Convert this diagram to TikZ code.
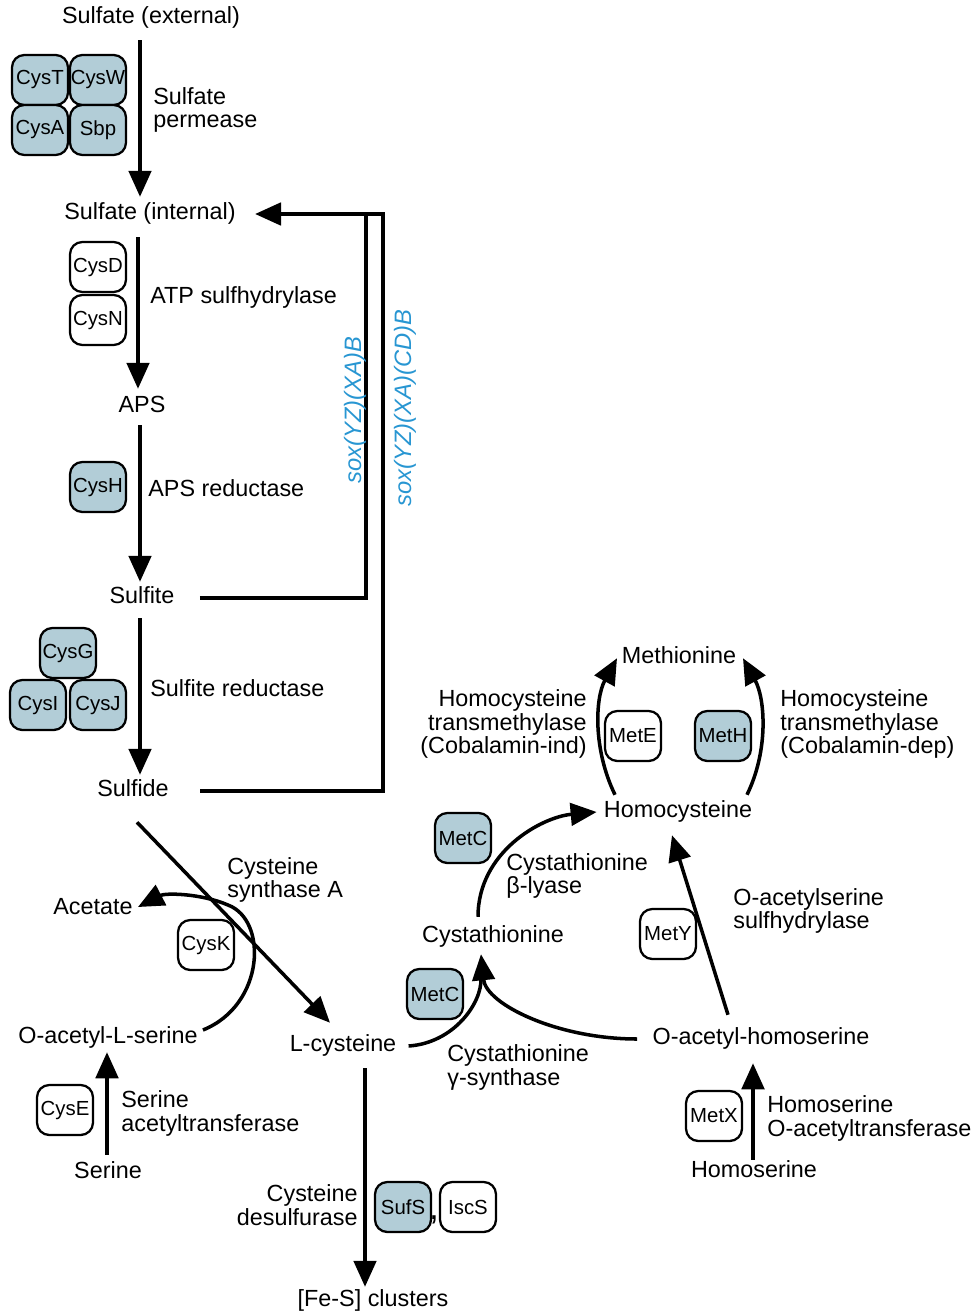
\documentclass[tikz,border=0pt]{standalone}
\usepackage{fontspec}
\setmainfont{Liberation Sans}
\definecolor{enzblue}{RGB}{178, 205, 215}
\definecolor{soxblue}{RGB}{40, 150, 210}
\usetikzlibrary{arrows.meta, calc}

\tikzset{
  spec/.style={inner sep=0pt, text height=9.6pt, text depth=2.8pt, font=\fontsize{13.3}{13.6}\selectfont},
  lblw/.style={inner sep=0pt, anchor=west, align=left, font=\fontsize{13.3}{13.6}\selectfont},
  lble/.style={inner sep=0pt, anchor=east, align=right, font=\fontsize{13.3}{13.6}\selectfont},
  enz/.style={draw, line width=1.3pt, rounded corners=7pt, minimum width=1.12cm, minimum height=1cm, inner sep=0pt, font=\fontsize{11.6}{12}\selectfont},
  enzb/.style={enz, fill=enzblue},
  rxn/.style={line width=2pt, -{Triangle[length=0.52cm, width=0.45cm]}},
  feed/.style={line width=2pt},
  sox/.style={soxblue, inner sep=0pt, rotate=90, font=\fontsize{13.5}{14}\selectfont\itshape}
}

\begin{document}
\begin{tikzpicture}[x=0.02cm, y=-0.02cm]
  \useasboundingbox (0,0) rectangle (972,1311);

  % sulfate assimilation
  \node[spec] (ext) at (151,18) {Sulfate (external)};
  \node[spec] (int) at (150,214) {Sulfate (internal)};
  \node[spec] (aps) at (142,407) {APS};
  \node[spec] (sulfite) at (142,598) {Sulfite};
  \node[spec] (sulfide) at (133,791) {Sulfide};

  \node[enzb] (cyst) at (40,80) {CysT};
  \node[enzb] (cysw) at (98,80) {CysW};
  \node[enzb] (cysa) at (40,130) {CysA};
  \node[enzb] (sbp) at (98,130) {Sbp};
  \node[lblw] (perm) at (153,110) {Sulfate\\permease};

  \node[enz] (cysd) at (98,267) {CysD};
  \node[enz] (cysn) at (98,320) {CysN};
  \node[lblw] (atps) at (150,297) {ATP sulfhydrylase};

  \node[enzb] (cysh) at (98,487) {CysH};
  \node[lblw] (apsr) at (148,488) {APS reductase};

  \node[enzb] (cysg) at (68,653) {CysG};
  \node[enzb] (cysi) at (38,705) {CysI};
  \node[enzb] (cysj) at (98,705) {CysJ};
  \node[lblw] (sred) at (150,688) {Sulfite reductase};

  \draw[rxn] ($(ext.south)+(-11,11)$) -- ($(int.north)+(-10,-6)$);
  \draw[rxn] ($(int.south)+(-12,12)$) -- ($(aps.north)+(-4,-7)$);
  \draw[rxn] ($(aps.south)+(-2,7)$) -- ($(sulfite.north)+(-2,-5)$);
  \draw[rxn] ($(sulfite.south)+(-2,9)$) -- ($(sulfide.north)+(7,-5)$);

  % sox return paths
  \coordinate (top1) at (366,214);
  \coordinate (top2) at (383,214);
  \draw[feed] ($(sulfite.east)+(25,0)$) -| (top1);
  \draw[rxn] ($(sulfide.east)+(31,0)$) -| (top2) -- ($(int.east)+(19,0)$);
  \node[sox] (sox1) at (355,410) {sox(YZ)(XA)B};
  \node[sox] (sox2) at (405,408) {sox(YZ)(XA)(CD)B};

  % cysteine
  \node[spec] (acetate) at (93,909) {Acetate};
  \node[spec] (oas) at (108,1038) {O-acetyl-L-serine};
  \node[spec] (serine) at (108,1173) {Serine};
  \node[spec] (lcys) at (343,1046) {L-cysteine};
  \node[spec] (fes) at (373,1301) {[Fe-S] clusters};

  \node[enz] (cysk) at (206,945) {CysK};
  \node[lblw] (csa) at (227,880) {Cysteine\\synthase A};
  \node[enz] (cyse) at (65,1110) {CysE};
  \node[lblw] (sat) at (121,1113) {Serine\\acetyltransferase};
  \node[lble] (cdes) at (358,1205) {Cysteine\\desulfurase};
  \node[enzb] (sufs) at (403,1207) {SufS};
  \node[enz] (iscs) at (468,1207) {IscS};
  \node[inner sep=0pt, font=\fontsize{20}{20}\selectfont] (comma) at (434,1220) {,};

  \draw[rxn] ($(sulfide.south)+(4,20)$) -- ($(lcys.north)+(-13,-12)$);
  \draw[rxn] ($(oas.east)+(5,-8)$) .. controls +(62,-25) and +(40,15) .. (228,905)
    .. controls +(-28,-12) and +(27,-14) .. ($(acetate.east)+(5,-2)$);
  \draw[rxn] ($(serine.north)+(-1,-7)$) -- ($(oas.south)+(-1,3)$);
  \draw[rxn] ($(lcys.south)+(22,11)$) -- ($(fes.north)+(-8,-3)$);

  % methionine
  \node[spec] (cysta) at (493,937) {Cystathionine};
  \node[spec] (hcys) at (678,812) {Homocysteine};
  \node[spec] (met) at (679,658) {Methionine};
  \node[spec] (oah) at (761,1039) {O-acetyl-homoserine};
  \node[spec] (hser) at (754,1172) {Homoserine};

  \node[enzb] (metc1) at (463,838) {MetC};
  \node[lblw] (cbl) at (506,876) {Cystathionine\\β-lyase};
  \node[enzb] (metc2) at (435,994) {MetC};
  \node[lblw] (cgs) at (447,1067) {Cystathionine\\γ-synthase};
  \node[enz] (mety) at (668,934) {MetY};
  \node[lblw] (oass) at (733,911) {O-acetylserine\\sulfhydrylase};
  \node[enz] (mete) at (633,736) {MetE};
  \node[enzb] (meth) at (723,736) {MetH};
  \node[lble] (htl) at (587,724) {Homocysteine\\transmethylase\\(Cobalamin-ind)};
  \node[lblw] (htr) at (780,724) {Homocysteine\\transmethylase\\(Cobalamin-dep)};
  \node[enz] (metx) at (714,1116) {MetX};
  \node[lblw] (hot) at (767,1118) {Homoserine\\O-acetyltransferase};

  \draw[feed] ($(lcys.east)+(12,0)$) .. controls +(45,-3) and +(1,25) .. ($(cysta.south)+(-12,30)$);
  \draw[rxn] ($(oah.west)+(-15,0)$) .. controls +(-80,0) and +(5,50) .. ($(cysta.south)+(-12,6)$);
  \draw[rxn] ($(cysta.north)+(-15,-9)$) .. controls +(0,-65) and +(-55,5) .. ($(hcys.west)+(-7,0)$);
  \draw[rxn] ($(oah.north)+(-33,-13)$) -- ($(hcys.south)+(-6,12)$);
  \draw[rxn] ($(hser.north)+(-1,-1)$) -- ($(oah.south)+(-8,13)$);
  \draw[rxn] ($(hcys.north)+(-63,-6)$) .. controls +(-22,-45) and +(-22,40) .. ($(met.south)+(-62,-11)$);
  \draw[rxn] ($(hcys.north)+(69,-6)$) .. controls +(22,-45) and +(22,40) .. ($(met.south)+(64,-11)$);
\end{tikzpicture}
\end{document}
